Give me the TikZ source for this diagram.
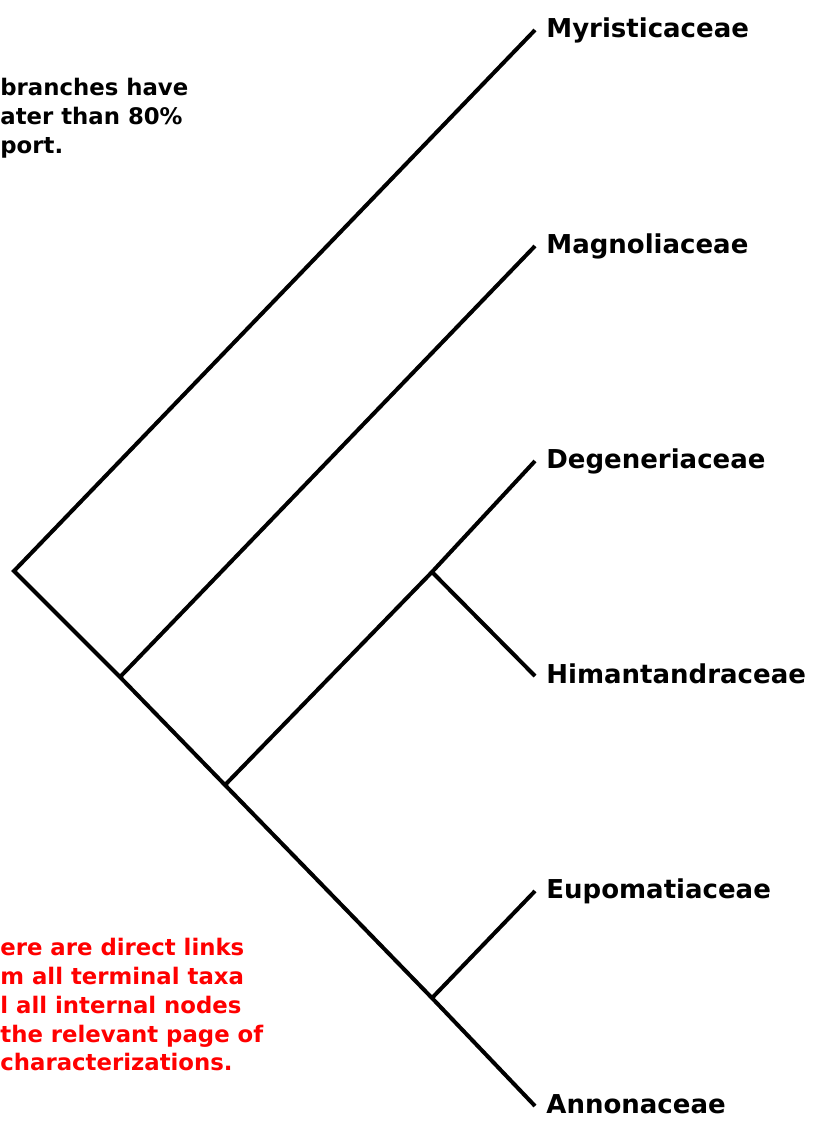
\documentclass[tikz,border=0pt]{standalone}
\usepackage{fontspec}
\setmainfont{DejaVu Sans}
\usepackage{xcolor}
\usepackage{tikz}
\usetikzlibrary{positioning}
\definecolor{mynote}{RGB}{255,0,0}
\tikzset{
  branch/.style={line width=2pt, color=black},
  taxon/.style={anchor=west, inner xsep=5.5pt, inner ysep=0pt, yshift=1pt,
    font=\fontsize{13}{15}\selectfont\bfseries, text height=1.6ex, text depth=0.3ex},
  note/.style={anchor=north west, align=left, inner sep=0pt,
    font=\fontsize{11.4}{14.4}\selectfont\bfseries}
}
\begin{document}
\begin{tikzpicture}[x=0.5pt, y=-0.5pt]
  \useasboundingbox (0,0) rectangle (817,1124);
  % terminal taxa, top to bottom
  \node[taxon] (myr) at (535,32) {Myristicaceae};
  \node[taxon] (mag) at (535,248) {Magnoliaceae};
  \node[taxon] (deg) at (535,463) {Degeneriaceae};
  \node[taxon] (him) at (535,678) {Himantandraceae};
  \node[taxon] (eup) at (535,893) {Eupomatiaceae};
  \node[taxon] (ann) at (535,1108) {Annonaceae};
  % internal nodes
  \coordinate (root) at (14,571);
  \coordinate (n1) at (120,677);
  \coordinate (n2) at (225,785);
  \coordinate (n3) at (432,572);
  \coordinate (n4) at (432,998);
  % branches
  \draw[branch] (myr.west) -- (root) -- (n1) -- (n2) -- (n4) -- (ann.west);
  \draw[branch] (n1) -- (mag.west);
  \draw[branch] (n2) -- (n3) -- (deg.west);
  \draw[branch] (n3) -- (him.west);
  \draw[branch] (n4) -- (eup.west);
  % notes
  \node[note] (support) at (0,78) {branches have\\ater than 80\%\\port.};
  \node[note, text=mynote] (links) at (0,938) {ere are direct links\\m all terminal taxa\\l all internal nodes\\the relevant page of\\characterizations.};
\end{tikzpicture}
\end{document}
